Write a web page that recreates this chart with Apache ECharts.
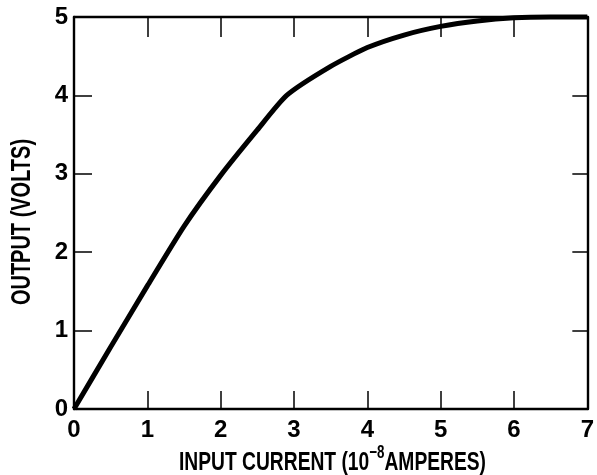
<!DOCTYPE html>
<html>
<head>
<meta charset="utf-8">
<style>
  html, body { margin: 0; padding: 0; background: #ffffff; }
  #chart { width: 597px; height: 475px; }
</style>
<script src="https://cdn.jsdelivr.net/npm/echarts@6/dist/echarts.min.js"></script>
</head>
<body>
<div id="chart"></div>
<script>
// Transfer curve: input current (1e-8 A) vs output (V)
const inputCurrent = [0, 0.5, 1, 1.5, 2, 2.5, 2.9, 3.5, 4, 4.5, 5, 5.5, 6, 6.5, 7];
const outputVolts  = [0, 0.79, 1.57, 2.33, 2.98, 3.56, 4.0, 4.37, 4.61, 4.77, 4.88, 4.95, 4.99, 5.0, 5.0];

const xTicks = [0, 1, 2, 3, 4, 5, 6, 7];
const yTicks = [0, 1, 2, 3, 4, 5];

const xTitle = 'INPUT CURRENT (10';
const xTitleExp = '−8';
const xTitleUnit = 'AMPERES)';
const yTitle = 'OUTPUT (VOLTS)';

const FONT = '"Liberation Sans", Arial, sans-serif';
const INK = '#000000';

const GRID = { left: 74, right: 2, top: 17, bottom: 66 };
const W = 597, H = 475;

const points = inputCurrent.map((x, i) => [x, outputVolts[i]]);

const frameLine = { show: true, onZero: false, lineStyle: { color: INK, width: 2.4 } };
const innerTick = (len) => ({ show: true, inside: true, length: len, lineStyle: { color: INK, width: 1.5 } });
const tickLabel = (margin) => ({ color: INK, fontFamily: FONT, fontWeight: 'bold', fontSize: 24, margin: margin });

// Titles are set in a condensed bold face: squeeze the glyphs horizontally
const SQUEEZE = 0.74;
const plotMidX = GRID.left + (W - GRID.left - GRID.right) / 2;
const plotMidY = GRID.top + (H - GRID.top - GRID.bottom) / 2;

const chart = echarts.init(document.getElementById('chart'));
chart.setOption({
  backgroundColor: '#ffffff',
  animation: false,
  grid: Object.assign({ containLabel: false }, GRID),
  xAxis: [
    {
      type: 'value', position: 'bottom',
      min: xTicks[0], max: xTicks[xTicks.length - 1], interval: 1,
      axisLine: frameLine, axisTick: innerTick(18), splitLine: { show: false },
      axisLabel: tickLabel(9)
    },
    {
      type: 'value', position: 'top',
      min: xTicks[0], max: xTicks[xTicks.length - 1], interval: 1,
      axisLine: frameLine, axisTick: innerTick(20), splitLine: { show: false },
      axisLabel: { show: false }
    }
  ],
  yAxis: [
    {
      type: 'value', position: 'left',
      min: yTicks[0], max: yTicks[yTicks.length - 1], interval: 1,
      axisLine: frameLine, axisTick: innerTick(18), splitLine: { show: false },
      axisLabel: tickLabel(6)
    },
    {
      type: 'value', position: 'right',
      min: yTicks[0], max: yTicks[yTicks.length - 1], interval: 1,
      axisLine: frameLine, axisTick: innerTick(15), splitLine: { show: false },
      axisLabel: { show: false }
    }
  ],
  graphic: [
    {
      type: 'text',
      x: plotMidX - 2, y: 463,
      scaleX: SQUEEZE,
      style: {
        text: xTitle + '{sup|' + xTitleExp + '}' + xTitleUnit,
        fill: INK, font: 'bold 26px ' + FONT,
        align: 'center', verticalAlign: 'middle',
        rich: {
          sup: { fill: INK, fontFamily: FONT, fontWeight: 'bold', fontSize: 18, padding: [0, 0, 20, 0], verticalAlign: 'bottom' }
        }
      }
    },
    {
      type: 'text',
      x: 23, y: plotMidY + 9,
      rotation: Math.PI / 2,
      scaleX: SQUEEZE,
      style: {
        text: yTitle,
        fill: INK, font: 'bold 27px ' + FONT,
        align: 'center', verticalAlign: 'middle'
      }
    }
  ],
  series: [{
    type: 'line',
    xAxisIndex: 0, yAxisIndex: 0,
    data: points,
    smooth: 0.2,
    showSymbol: false,
    lineStyle: { color: INK, width: 5 },
    clip: false
  }]
});
</script>
</body>
</html>
